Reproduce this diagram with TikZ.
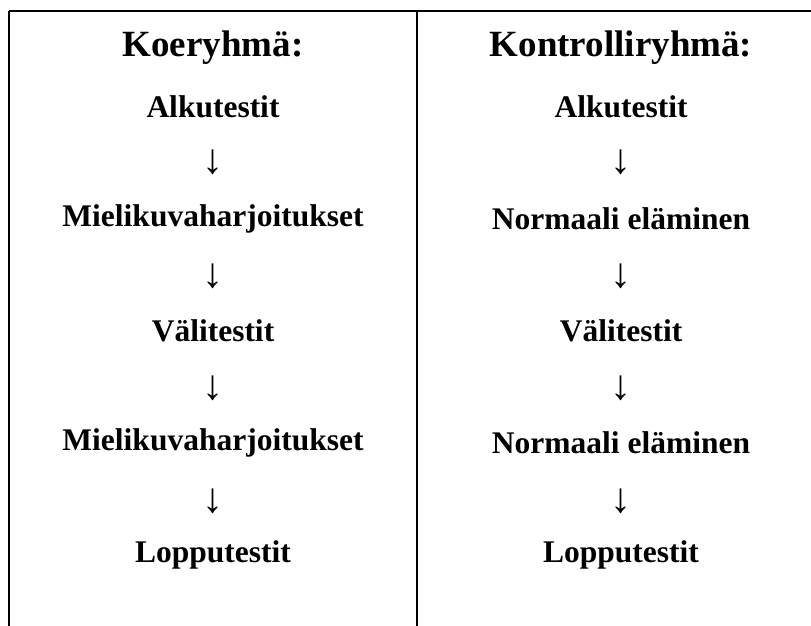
\documentclass[tikz,border=0pt]{standalone}
\usepackage{fontspec}
\setmainfont{Liberation Serif}
\begin{document}
\begin{tikzpicture}[x=1pt,y=-1pt,
  rule/.style={line width=2.4pt,black},
  head/.style={font=\fontsize{37}{40}\selectfont\bfseries,anchor=center},
  stage/.style={font=\fontsize{31.5}{34}\selectfont\bfseries,anchor=center},
  flow/.style={font=\fontsize{42}{44}\selectfont,anchor=center}]
\useasboundingbox (0,0) rectangle (811,626);
% table rules
\coordinate (tl) at (9,11);
\coordinate (tr) at (811,11);
\coordinate (tm) at (417,11);
\coordinate (bl) at (9,626);
\coordinate (bm) at (417,626);
\draw[rule] (tl) -- (tr);
\draw[rule] (tl) -- (bl);
\draw[rule] (tm) -- (bm);
% left column
\node[head]  (kh) at (213,48) {Koeryhmä:};
\node[stage] (k1) at (213,107) {Alkutestit};
\node[flow]  (ka1) at (213,162) {↓};
\node[stage] (k2) at (213,219) {Mielikuvaharjoitukset};
\node[flow]  (ka2) at (213,276) {↓};
\node[stage] (k3) at (213,331) {Välitestit};
\node[flow]  (ka3) at (213,388) {↓};
\node[stage] (k4) at (213,443) {Mielikuvaharjoitukset};
\node[flow]  (ka4) at (213,501) {↓};
\node[stage] (k5) at (213,555) {Lopputestit};
% right column
\node[head]  (rh) at (621,48) {Kontrolliryhmä:};
\node[stage] (r1) at (621,107) {Alkutestit};
\node[flow]  (ra1) at (621,162) {↓};
\node[stage] (r2) at (621,219) {Normaali eläminen};
\node[flow]  (ra2) at (621,276) {↓};
\node[stage] (r3) at (621,331) {Välitestit};
\node[flow]  (ra3) at (621,388) {↓};
\node[stage] (r4) at (621,443) {Normaali eläminen};
\node[flow]  (ra4) at (621,501) {↓};
\node[stage] (r5) at (621,555) {Lopputestit};
\end{tikzpicture}
\end{document}
